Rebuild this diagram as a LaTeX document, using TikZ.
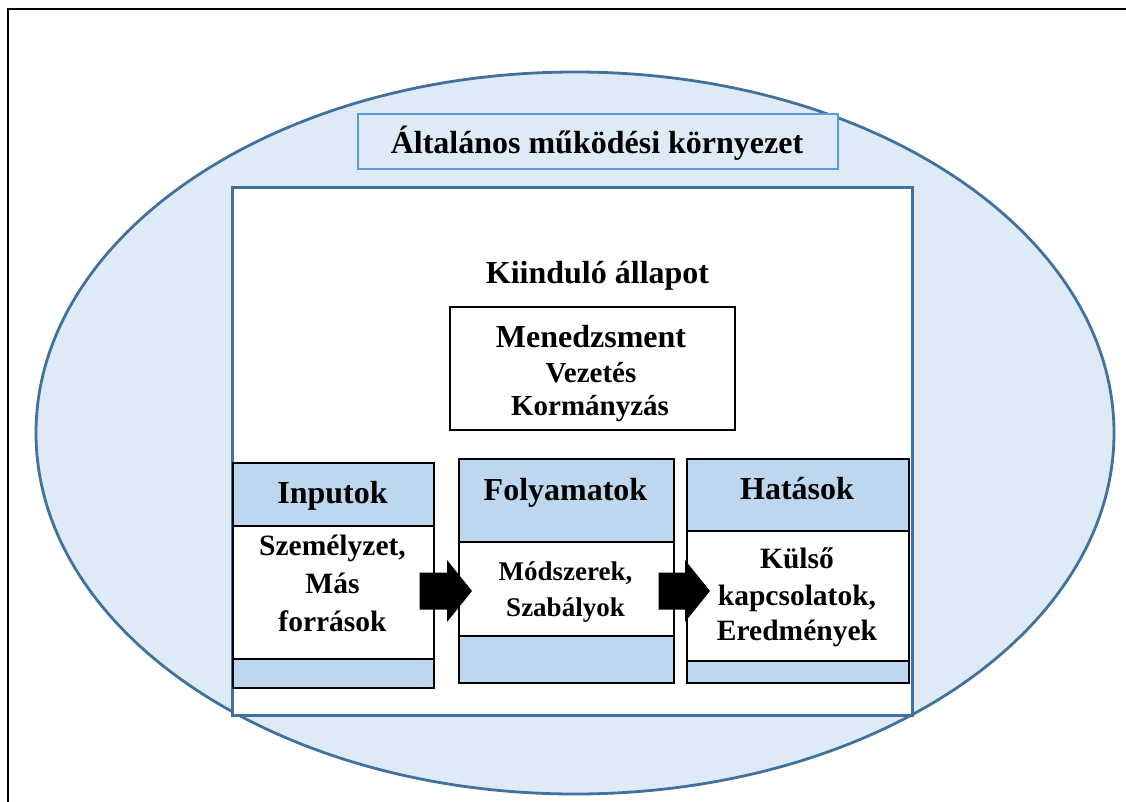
\documentclass[tikz,border=0pt]{standalone}
\usepackage{fontspec}
\setmainfont{Liberation Serif}
\usetikzlibrary{calc,shapes.geometric}
\definecolor{envfill}{HTML}{DEEAF6}
\definecolor{envline}{HTML}{41719C}
\definecolor{titleline}{HTML}{5B9BD5}
\definecolor{headfill}{HTML}{BDD7EE}

\begin{document}
\begin{tikzpicture}[x=1pt,y=-1pt,
  cell/.style={draw=black, line width=1.6pt, rectangle, inner sep=0pt, anchor=north west},
  hdtext/.style={font=\fontsize{32}{38}\selectfont\bfseries, anchor=base, inner sep=0pt},
  bdtext/.style={font=\fontsize{29.5}{36}\selectfont\bfseries, anchor=base, inner sep=0pt},
  smtext/.style={font=\fontsize{27}{33}\selectfont\bfseries, anchor=base, inner sep=0pt},
  mgtext/.style={font=\fontsize{29}{35}\selectfont\bfseries, anchor=base, inner sep=0pt},
  fatarrow/.style={fill=black}
]
\useasboundingbox (0,0) rectangle (1126,801);
\clip (0,0) rectangle (1126,801);

% page frame
\draw[line width=2.2pt] (8,815) -- (8,9) -- (1140,9);

% environment ellipse
\node[ellipse, draw=envline, fill=envfill, line width=2.8pt, inner sep=0pt,
      minimum width=1078pt, minimum height=722pt] (env) at (575,433) {};

% title box
\node[rectangle, draw=titleline, fill=envfill, line width=1.8pt, inner sep=0pt,
      anchor=north west, minimum width=480pt, minimum height=55pt] (titlebox) at (357,113) {};
\node[hdtext] (title) at (597,153) {Általános működési környezet};

% organisation frame
\node[rectangle, draw=envline, fill=white, line width=2.8pt, inner sep=0pt,
      anchor=north west, minimum width=680pt, minimum height=528pt] (org) at (231,186) {};
\node[hdtext] (start) at (597.5,283) {Kiinduló állapot};

% management box
\node[cell, fill=white, minimum width=285pt, minimum height=123pt] (mgmt) at (449,306) {};
\node[hdtext] (mg1) at (591,347) {Menedzsment};
\node[mgtext] (mg2) at (591,382) {Vezetés};
\node[mgtext] (mg3) at (590,415) {Kormányzás};

% inputs column
\node[cell, fill=headfill, minimum width=201pt, minimum height=63pt]  (inhead) at (232,462) {};
\node[cell, fill=white,    minimum width=201pt, minimum height=133pt] (inbody) at (232,525) {};
\node[cell, fill=headfill, minimum width=201pt, minimum height=29pt]  (infoot) at (232,658) {};
\node[hdtext] (inl) at (332.5,503) {Inputok};
\node[bdtext] (in1) at (332.5,555) {Személyzet,};
\node[bdtext] (in2) at (332.5,593) {Más};
\node[bdtext] (in3) at (332.5,631) {források};

% processes column
\node[cell, fill=headfill, minimum width=215pt, minimum height=83pt] (fohead) at (458,458) {};
\node[cell, fill=white,    minimum width=215pt, minimum height=94pt] (fobody) at (458,541) {};
\node[cell, fill=headfill, minimum width=215pt, minimum height=47pt] (fofoot) at (458,635) {};
\node[hdtext] (fol) at (565.5,500) {Folyamatok};
\node[smtext] (fo1) at (565.5,580) {Módszerek,};
\node[smtext] (fo2) at (565.5,616) {Szabályok};

% effects column
\node[cell, fill=headfill, minimum width=222pt, minimum height=72pt]  (hahead) at (686,458) {};
\node[cell, fill=white,    minimum width=222pt, minimum height=130pt] (habody) at (686,530) {};
\node[cell, fill=headfill, minimum width=222pt, minimum height=22pt]  (hafoot) at (686,660) {};
\node[hdtext] (hal) at (797,499) {Hatások};
\node[bdtext] (ha1) at (797,568) {Külső};
\node[bdtext] (ha2) at (797,605) {kapcsolatok,};
\node[bdtext] (ha3) at (797,640) {Eredmények};

% block arrows between the columns
\coordinate (a1s) at ($(inbody.east |- 0,591)+(-15,0)$);
\coordinate (a1t) at ($(fobody.west |- 0,591)+(14,0)$);
\fill[fatarrow] ($(a1s)+(0,-18.5)$) -- ($(a1t)+(-25,-18.5)$) -- ($(a1t)+(-25,-31)$) -- (a1t)
  -- ($(a1t)+(-25,31)$) -- ($(a1t)+(-25,18.5)$) -- ($(a1s)+(0,18.5)$) -- cycle;
\coordinate (a2s) at ($(fobody.east |- 0,591)+(-16,0)$);
\coordinate (a2t) at ($(habody.west |- 0,591)+(24,0)$);
\fill[fatarrow] ($(a2s)+(0,-18.5)$) -- ($(a2t)+(-25,-18.5)$) -- ($(a2t)+(-25,-31)$) -- (a2t)
  -- ($(a2t)+(-25,31)$) -- ($(a2t)+(-25,18.5)$) -- ($(a2s)+(0,18.5)$) -- cycle;
\end{tikzpicture}
\end{document}
